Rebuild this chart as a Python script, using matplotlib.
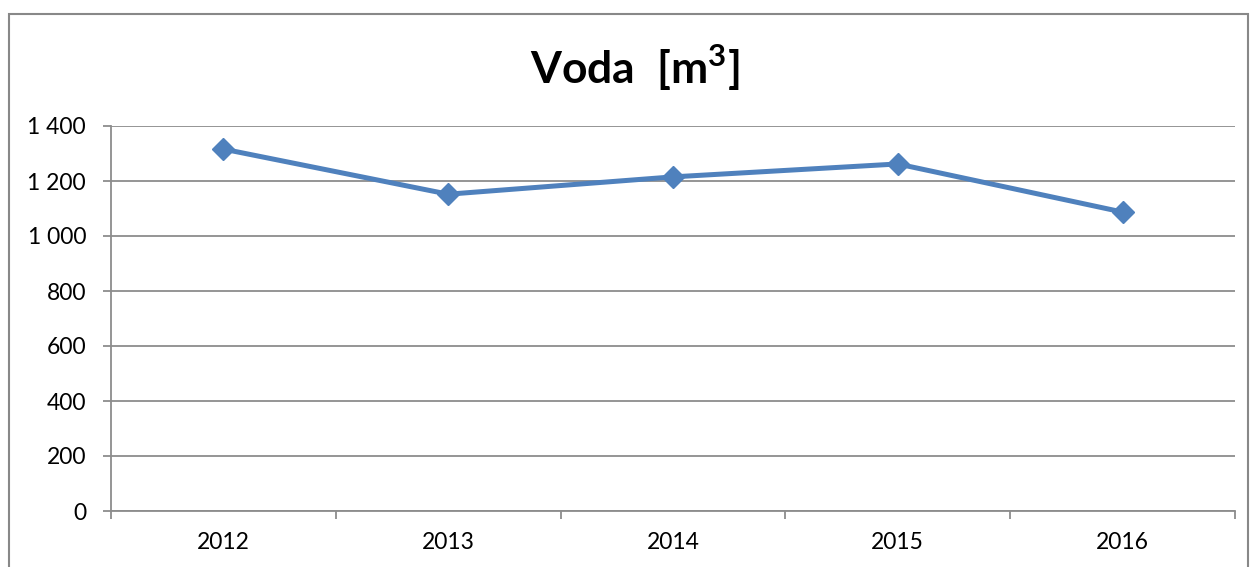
import matplotlib.pyplot as plt
from matplotlib.patches import Rectangle
from matplotlib.ticker import FixedLocator, FuncFormatter, NullFormatter

years = ["2012", "2013", "2014", "2015", "2016"]
voda = [1316, 1152, 1215, 1262, 1087]
y_ticks = [0, 200, 400, 600, 800, 1000, 1200, 1400]

plt.rcParams["font.family"] = ["Lato", "DejaVu Sans"]
plt.rcParams["mathtext.fontset"] = "custom"
plt.rcParams["mathtext.bf"] = "Lato:bold"
plt.rcParams["mathtext.rm"] = "Lato"

fig = plt.figure(figsize=(12.5, 5.67), dpi=100)
ax = fig.add_axes([111 / 1250, 1 - 511 / 567, 1124 / 1250, 385 / 567])

# outer chart frame
fig.patches.append(Rectangle((9 / 1250, -0.05), 1239 / 1250, 1.05 - 14 / 567,
                             transform=fig.transFigure, fill=False,
                             edgecolor="#888888", linewidth=1.5))

x = list(range(len(years)))
ax.plot(x, voda, color="#4F81BD", linewidth=3.6, marker="D",
        markersize=11, zorder=3)

ax.set_xlim(-0.5, len(years) - 0.5)
ax.set_ylim(0, 1400)

ax.set_yticks(y_ticks)
ax.yaxis.set_major_formatter(FuncFormatter(lambda v, p: f"{int(v):,}".replace(",", " ")))
ax.yaxis.grid(True, color="#8c8c8c", linewidth=1.3)
ax.set_axisbelow(True)

# category ticks sit between the categories
ax.xaxis.set_major_locator(FixedLocator([i - 0.5 for i in range(len(years) + 1)]))
ax.xaxis.set_major_formatter(NullFormatter())
ax.xaxis.set_minor_locator(FixedLocator(x))
ax.set_xticklabels(years, minor=True)
ax.tick_params(axis="x", which="minor", length=0, pad=15, labelsize=16.5)
ax.tick_params(axis="x", which="major", length=6, width=1.3, color="#8c8c8c")
ax.tick_params(axis="y", length=6, width=1.3, color="#8c8c8c", pad=12, labelsize=16.5)

for side in ["top", "right"]:
    ax.spines[side].set_visible(False)
for side in ["left", "bottom"]:
    ax.spines[side].set_color("#8c8c8c")
    ax.spines[side].set_linewidth(1.3)

fig.text(0.508, 1 - 68 / 567, r"Voda  [m$^{\mathbf{3}}$]", ha="center", va="center",
         fontsize=32, fontweight="bold")

fig.savefig("out.png", dpi=100)
